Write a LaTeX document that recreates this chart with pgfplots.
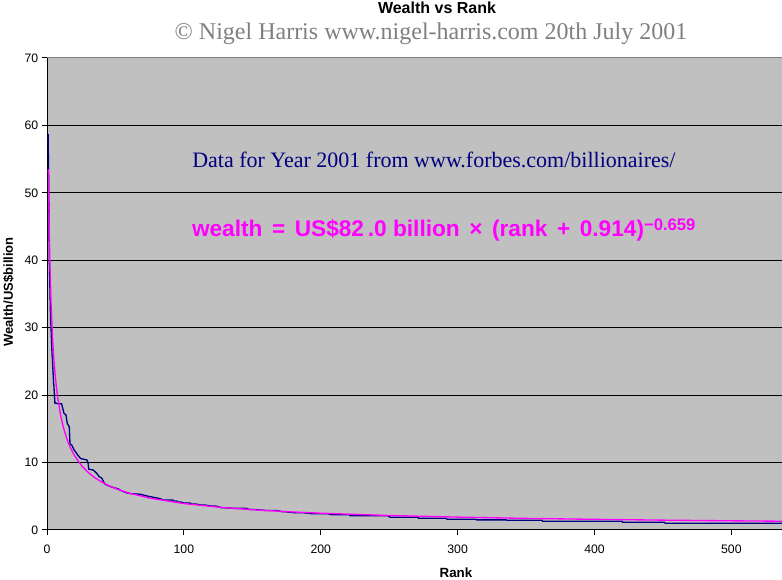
\documentclass[border=0pt]{standalone}
\usepackage{fontspec}
\setmainfont{Liberation Sans}
\newfontfamily\seriffont{Liberation Serif}
\usepackage{pgfplots}
\pgfplotsset{compat=1.18}
\definecolor{plotbg}{HTML}{C0C0C0}
\definecolor{navyc}{HTML}{000080}
\definecolor{magc}{HTML}{FF00FF}
\definecolor{subgray}{HTML}{808080}
\newcommand{\os}{\hspace{0.42em}}

\begin{document}
\begin{tikzpicture}
\path[use as bounding box] (0,0) rectangle (586.5pt,435pt);
\begin{axis}[
  at={(35.25pt,37.5pt)}, anchor=south west,
  width=551.25pt, height=354pt, scale only axis,
  xmin=0, xmax=537, ymin=0, ymax=70,
  axis x line*=bottom, axis y line*=left,
  axis line style={black, line width=0.75pt, -},
  axis background/.style={fill=plotbg, draw=subgray, line width=0.75pt},
  xtick={0,100,...,500}, ytick={0,10,...,70},
  tick align=outside, tick style={black, line width=0.75pt}, major tick length=4pt,
  extra y ticks={10,20,...,60}, extra y tick labels={},
  extra y tick style={grid=major, major tick length=0pt},
  grid style={black, line width=0.75pt},
  tick label style={font=\fontsize{9.2}{10}\selectfont},
  xticklabel style={yshift=-3.5pt},
  yticklabel style={xshift=1pt},
  /pgf/number format/assume math mode=true,
]
\addplot[navyc, line width=1pt, sharp plot] coordinates {
(0.8,58.7) (1.2,52) (1.7,40) (2.6,31.5) (2.8,30.8) (3.7,26) (3.9,25.7)
(4.8,21.8) (5.0,21.5) (5.8,18.8) (10.7,18.7) (12.4,17.3) (13.9,17.05)
(14.8,15.8) (16.3,15.3) (16.8,12.75) (18.1,12.6) (19.7,11.9) (21.2,11.5)
(22.9,11.0) (24.6,10.6) (26.5,10.5) (29.0,10.4) (30.0,10.0) (30.5,9.0)
(33.8,8.9) (36.3,8.4) (38.2,7.9) (40.0,7.7) (41.2,7.2) (42.4,6.8)
(46.1,6.45) (48.5,6.3) (52.1,6.1) (53.4,5.9) (58.3,5.5) (60.7,5.4)
(68,5.3) (74,5.0) (77.7,4.85) (82.6,4.65) (85,4.45) (91.9,4.45)
(92.3,4.3) (94.8,4.3) (95.3,4.15) (97.7,4.15) (100.1,4.0) (104.5,4.0)
(105.8,3.85) (108.7,3.85) (112.4,3.7) (115.5,3.7) (119.9,3.55) (123.3,3.55)
(127.7,3.3) (129.4,3.3) (137.4,3.2) (145.5,3.2) (147.9,3.05) (151.3,3.05)
(159.4,2.9) (167.4,2.9) (172.3,2.7) (174,2.7) (181.3,2.55) (187.9,2.55)
(193.9,2.4) (205.2,2.4) (208.6,2.25) (221,2.25) (221.5,2.1) (249,2.1)
(250.7,1.9) (271,1.9) (271.5,1.75) (291.4,1.75) (292.2,1.6) (313.4,1.6)
(314,1.5) (335.3,1.5) (336,1.45) (361.6,1.45) (362,1.3) (420,1.3)
(420.5,1.15) (451,1.15) (451.7,1.0) (537,1.0)
};
\addplot[magc, line width=1pt, sharp plot] coordinates {
(1,53.5) (1.5,45.9) (2,40.5) (3,33.4) (4,28.7) (5,25.4) (6,22.9) (7,20.98)
(8,19.4) (10,17.0) (12,15.2) (15,13.2) (17,12.24) (20,11.06) (25,9.60)
(30,8.55) (35,7.74) (40,7.11) (45,6.59) (50,6.15) (60,5.47) (75,4.73)
(100,3.92) (125,3.39) (150,3.01) (175,2.72) (200,2.49) (250,2.15)
(300,1.91) (350,1.72) (400,1.58) (450,1.46) (500,1.36) (537,1.30)
};
\end{axis}
\node[anchor=base, font=\bfseries\fontsize{12}{14}\selectfont] at (327.75pt,424.5pt) {Wealth vs Rank};
\node[anchor=base, text=subgray, font=\seriffont\fontsize{18}{20}\selectfont] at (323.25pt,405pt) {© Nigel Harris www.nigel-harris.com 20th July 2001};
\node[anchor=base west, inner sep=0pt, text=navyc, font=\seriffont\fontsize{16.5}{18}\selectfont] at (144pt,309pt) {Data for Year 2001 from www.forbes.com/billionaires/};
\node[anchor=base west, inner sep=0pt, text=magc, font=\bfseries\fontsize{17}{19}\selectfont] at (143.8pt,257.25pt) {wealth\os=\os US\$82\,.0 billion\os×\os(rank\os+\os0.914)\raisebox{4.5pt}{\fontsize{12.5}{14}\selectfont −0.659}};
\node[rotate=90, font=\bfseries\fontsize{9.75}{11}\selectfont] at (6.4pt,216pt) {Wealth/US\$billion};
\node[anchor=base, font=\bfseries\fontsize{10}{12}\selectfont] at (342pt,2pt) {Rank};
\end{tikzpicture}
\end{document}
